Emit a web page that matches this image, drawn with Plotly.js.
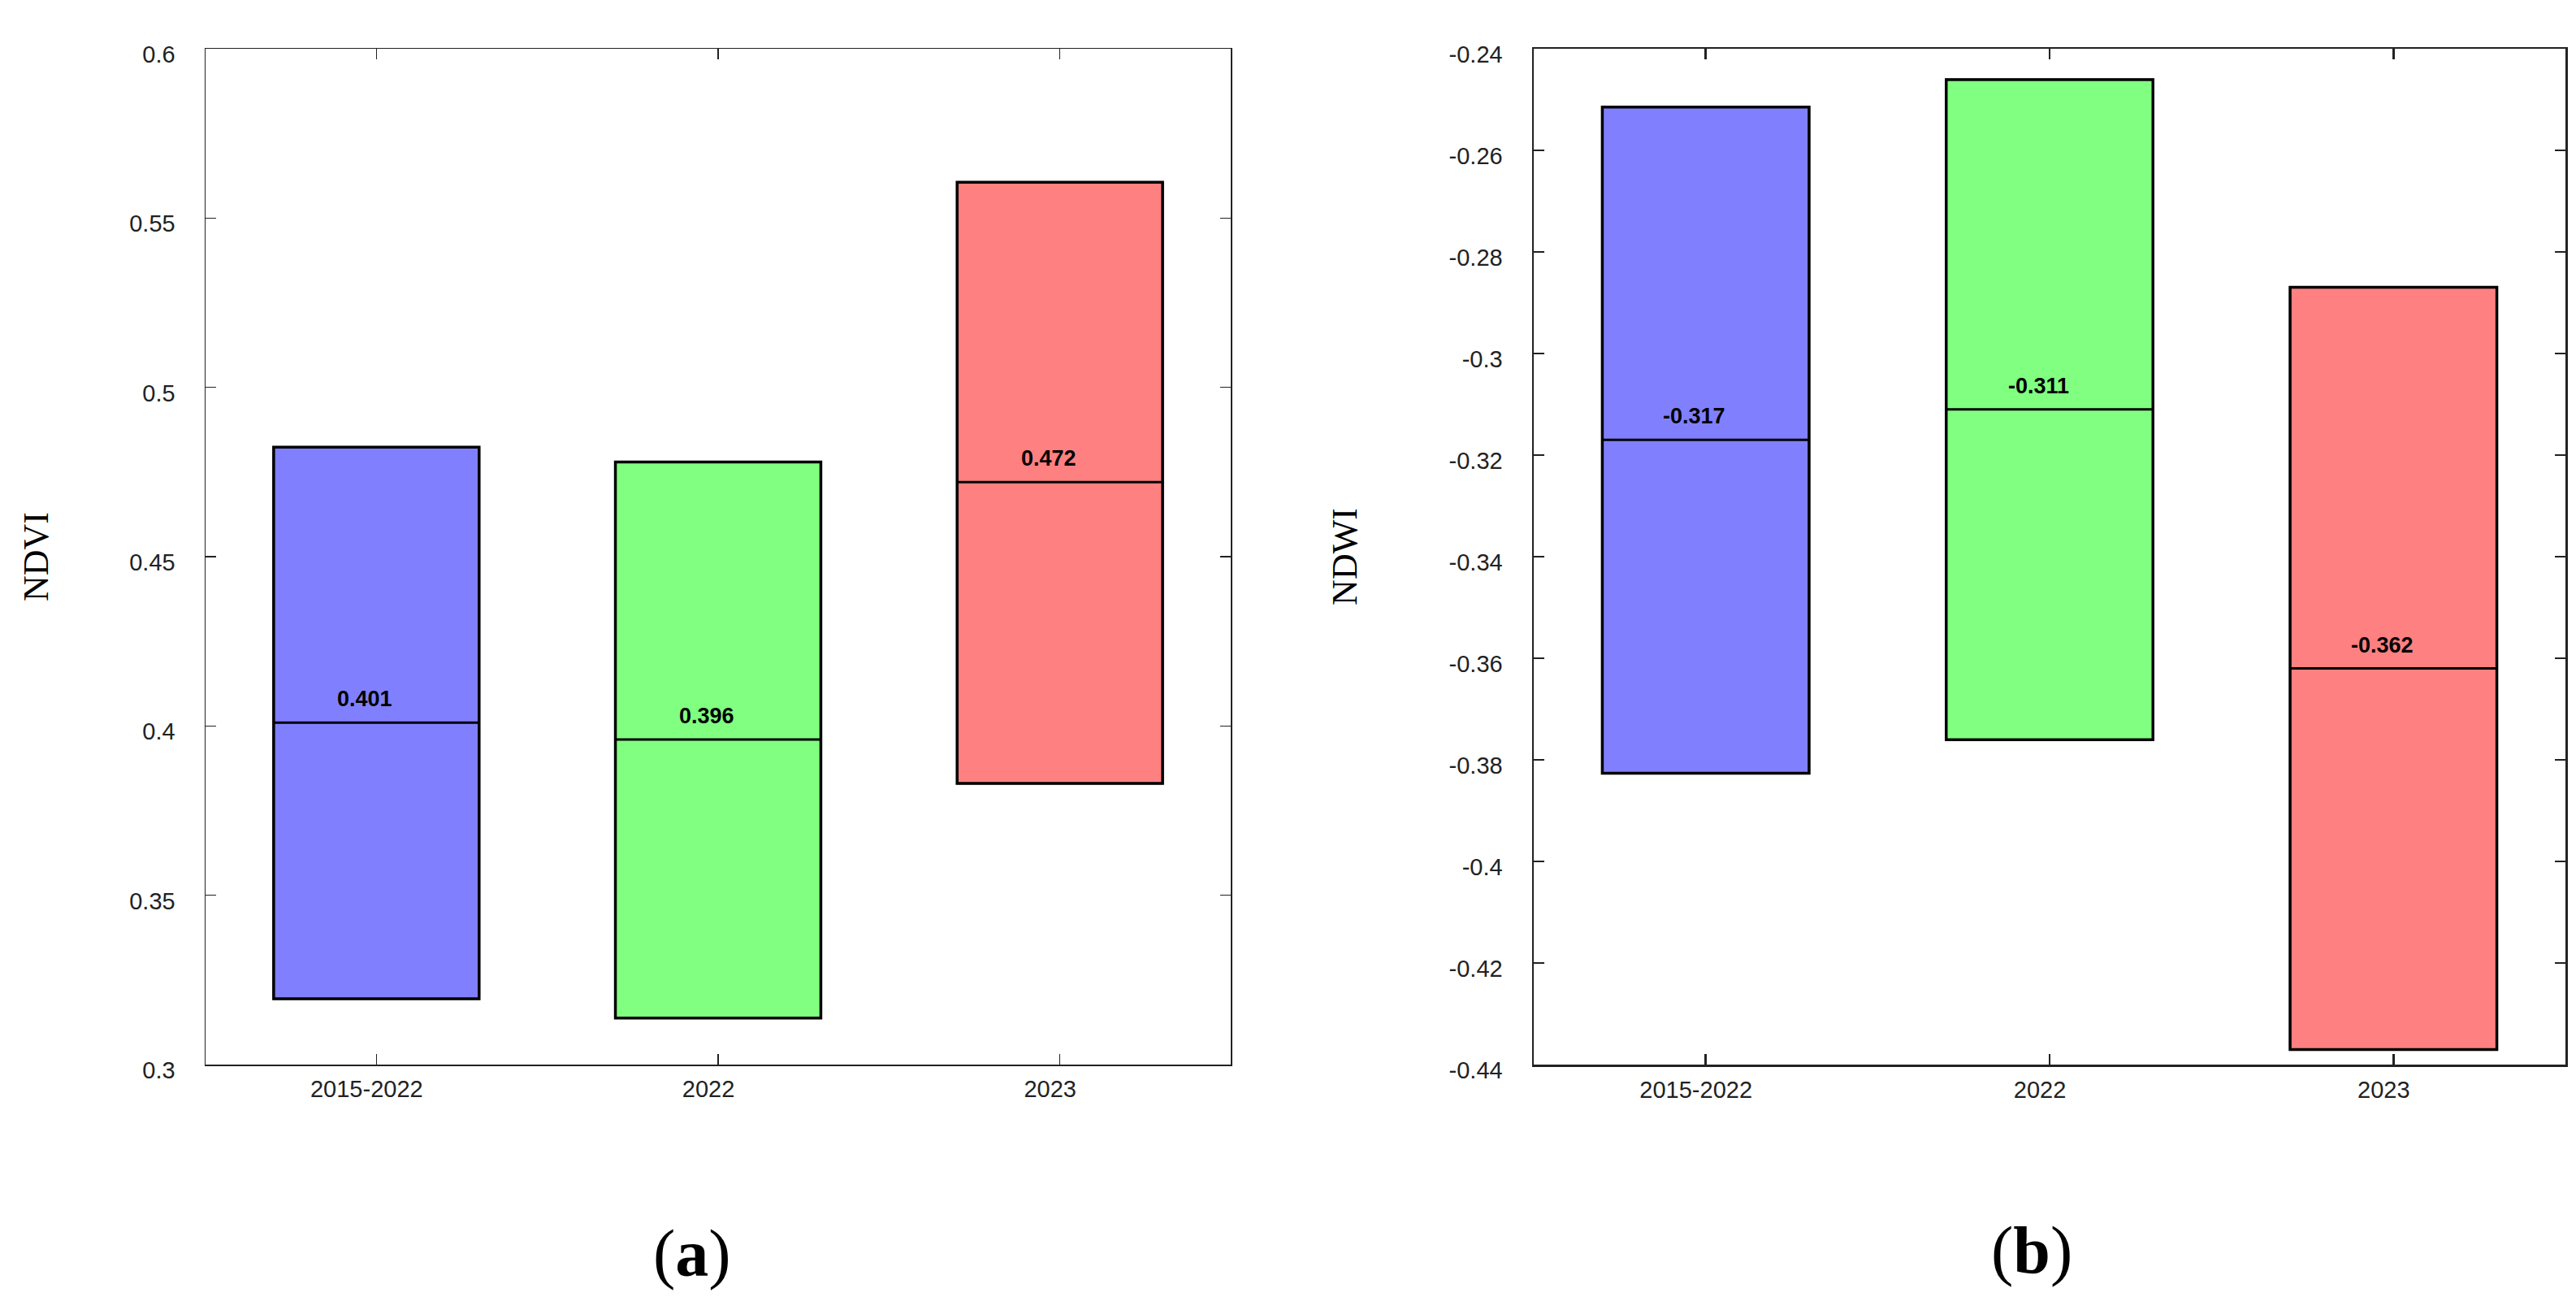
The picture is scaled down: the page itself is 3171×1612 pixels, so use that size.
<!DOCTYPE html>
<html>
<head>
<meta charset="utf-8">
<script src="https://cdn.plot.ly/plotly-3.0.1.min.js"></script>
<style>html,body{margin:0;padding:0;background:#fff;}#chart{width:3171px;height:1612px;}</style>
</head>
<body>
<div id="chart"></div>
<script>
const categories = ['2015-2022', '2022', '2023'];
const boxColors = ['#8080FF', '#80FF80', '#FF8080'];

const ndviLow = [0.3195, 0.3138, 0.3831];
const ndviMedian = [0.401, 0.396, 0.472];
const ndviHigh = [0.4823, 0.4779, 0.5605];

const ndwiLow = [-0.3826, -0.376, -0.437];
const ndwiMedian = [-0.317, -0.311, -0.362];
const ndwiHigh = [-0.2515, -0.2461, -0.287];

const ndviTickVals = [0.3, 0.35, 0.4, 0.45, 0.5, 0.55, 0.6];
const ndviTickText = ['0.3', '0.35', '0.4', '0.45', '0.5', '0.55', '0.6'];
const ndwiTickVals = [-0.44, -0.42, -0.4, -0.38, -0.36, -0.34, -0.32, -0.3, -0.28, -0.26, -0.24];
const ndwiTickText = ['-0.44', '-0.42', '-0.4', '-0.38', '-0.36', '-0.34', '-0.32', '-0.3', '-0.28', '-0.26', '-0.24'];

const panelLabels = ['a', 'b'];
const yTitles = ['NDVI', 'NDWI'];

function boxes(low, med, high, xa, ya) {
  return categories.map((c, i) => ({
    type: 'box',
    x: [c],
    q1: [low[i]], median: [med[i]], q3: [high[i]],
    lowerfence: [low[i]], upperfence: [high[i]],
    fillcolor: boxColors[i],
    line: {color: '#000000', width: 3},
    width: 0.6,
    whiskerwidth: 0,
    xaxis: xa, yaxis: ya,
    showlegend: false,
    hoverinfo: 'skip'
  }));
}

// heavier outline drawn over each box
function outlines(low, high, xa, ya) {
  return {
    type: 'bar',
    x: categories,
    base: low,
    y: high.map((h, i) => h - low[i]),
    width: 0.6,
    marker: {color: 'rgba(0,0,0,0)', line: {color: '#000000', width: 4}},
    xaxis: xa, yaxis: ya,
    showlegend: false,
    hoverinfo: 'skip'
  };
}

function medianLabels(med, xa, ya) {
  return categories.map((c, i) => ({
    xref: xa, yref: ya,
    x: i, y: med[i],
    text: med[i].toFixed(3),
    showarrow: false,
    xanchor: 'center', yanchor: 'bottom',
    xshift: -14, yshift: 12,
    font: {family: 'Liberation Sans, Arial, sans-serif', size: 27, color: '#000', weight: 'bold'}
  }));
}

const tickFont = {family: 'Liberation Sans, Arial, sans-serif', size: 29, color: '#222'};

function xAxis(domain, anchor, lw) {
  return {
    domain: domain, anchor: anchor,
    type: 'category',
    categoryorder: 'array', categoryarray: categories,
    range: [-0.5, 2.5],
    showline: true, linecolor: '#222', linewidth: lw,
    mirror: 'ticks',
    ticks: 'inside', ticklen: 13, tickwidth: lw, tickcolor: '#222',
    tickfont: tickFont,
    ticklabelshift: -12,
    ticklabelstandoff: 4,
    showgrid: false, zeroline: false, fixedrange: true
  };
}

function yAxis(anchor, vals, texts, rng, title, standoff, lw) {
  return {
    anchor: anchor,
    domain: [0, 1],
    range: rng,
    tickmode: 'array', tickvals: vals, ticktext: texts,
    showline: true, linecolor: '#222', linewidth: lw,
    mirror: 'ticks',
    ticks: 'inside', ticklen: 13, tickwidth: lw, tickcolor: '#222',
    tickfont: tickFont,
    ticklabelstandoff: 30,
    ticklabelshift: 7,
    title: {text: title, standoff: standoff, font: {family: 'Liberation Serif, Times New Roman, serif', size: 44, color: '#000'}},
    showgrid: false, zeroline: false, fixedrange: true
  };
}

const data = [
  ...boxes(ndviLow, ndviMedian, ndviHigh, 'x', 'y'),
  outlines(ndviLow, ndviHigh, 'x', 'y'),
  ...boxes(ndwiLow, ndwiMedian, ndwiHigh, 'x2', 'y2'),
  outlines(ndwiLow, ndwiHigh, 'x2', 'y2')
];

const panelAnnotations = [
  {xref: 'paper', yref: 'paper', x: 0.2687, y: -0.186, text: '(<b>' + panelLabels[0] + '</b>)', showarrow: false,
   xanchor: 'center', yanchor: 'middle', font: {family: 'Liberation Serif, Times New Roman, serif', size: 82, color: '#000'}},
  {xref: 'paper', yref: 'paper', x: 0.7887, y: -0.183, text: '(<b>' + panelLabels[1] + '</b>)', showarrow: false,
   xanchor: 'center', yanchor: 'middle', font: {family: 'Liberation Serif, Times New Roman, serif', size: 82, color: '#000'}}
];

const layout = {
  width: 3171, height: 1612,
  paper_bgcolor: '#ffffff', plot_bgcolor: '#ffffff',
  margin: {l: 0, r: 0, t: 60, b: 302, pad: 0},
  showlegend: false,
  boxmode: 'overlay',
  barmode: 'overlay',
  xaxis: xAxis([253 / 3171, 1515 / 3171], 'y', 1.5),
  yaxis: yAxis('x', ndviTickVals, ndviTickText, [0.3, 0.6], yTitles[0], 86, 1.5),
  xaxis2: xAxis([1888 / 3171, 3158 / 3171], 'y2', 2.5),
  yaxis2: yAxis('x2', ndwiTickVals, ndwiTickText, [-0.44, -0.24], yTitles[1], 99, 2.5),
  annotations: [
    ...medianLabels(ndviMedian, 'x', 'y'),
    ...medianLabels(ndwiMedian, 'x2', 'y2'),
    ...panelAnnotations
  ]
};

Plotly.newPlot('chart', data, layout, {displayModeBar: false, staticPlot: true});
</script>
</body>
</html>
